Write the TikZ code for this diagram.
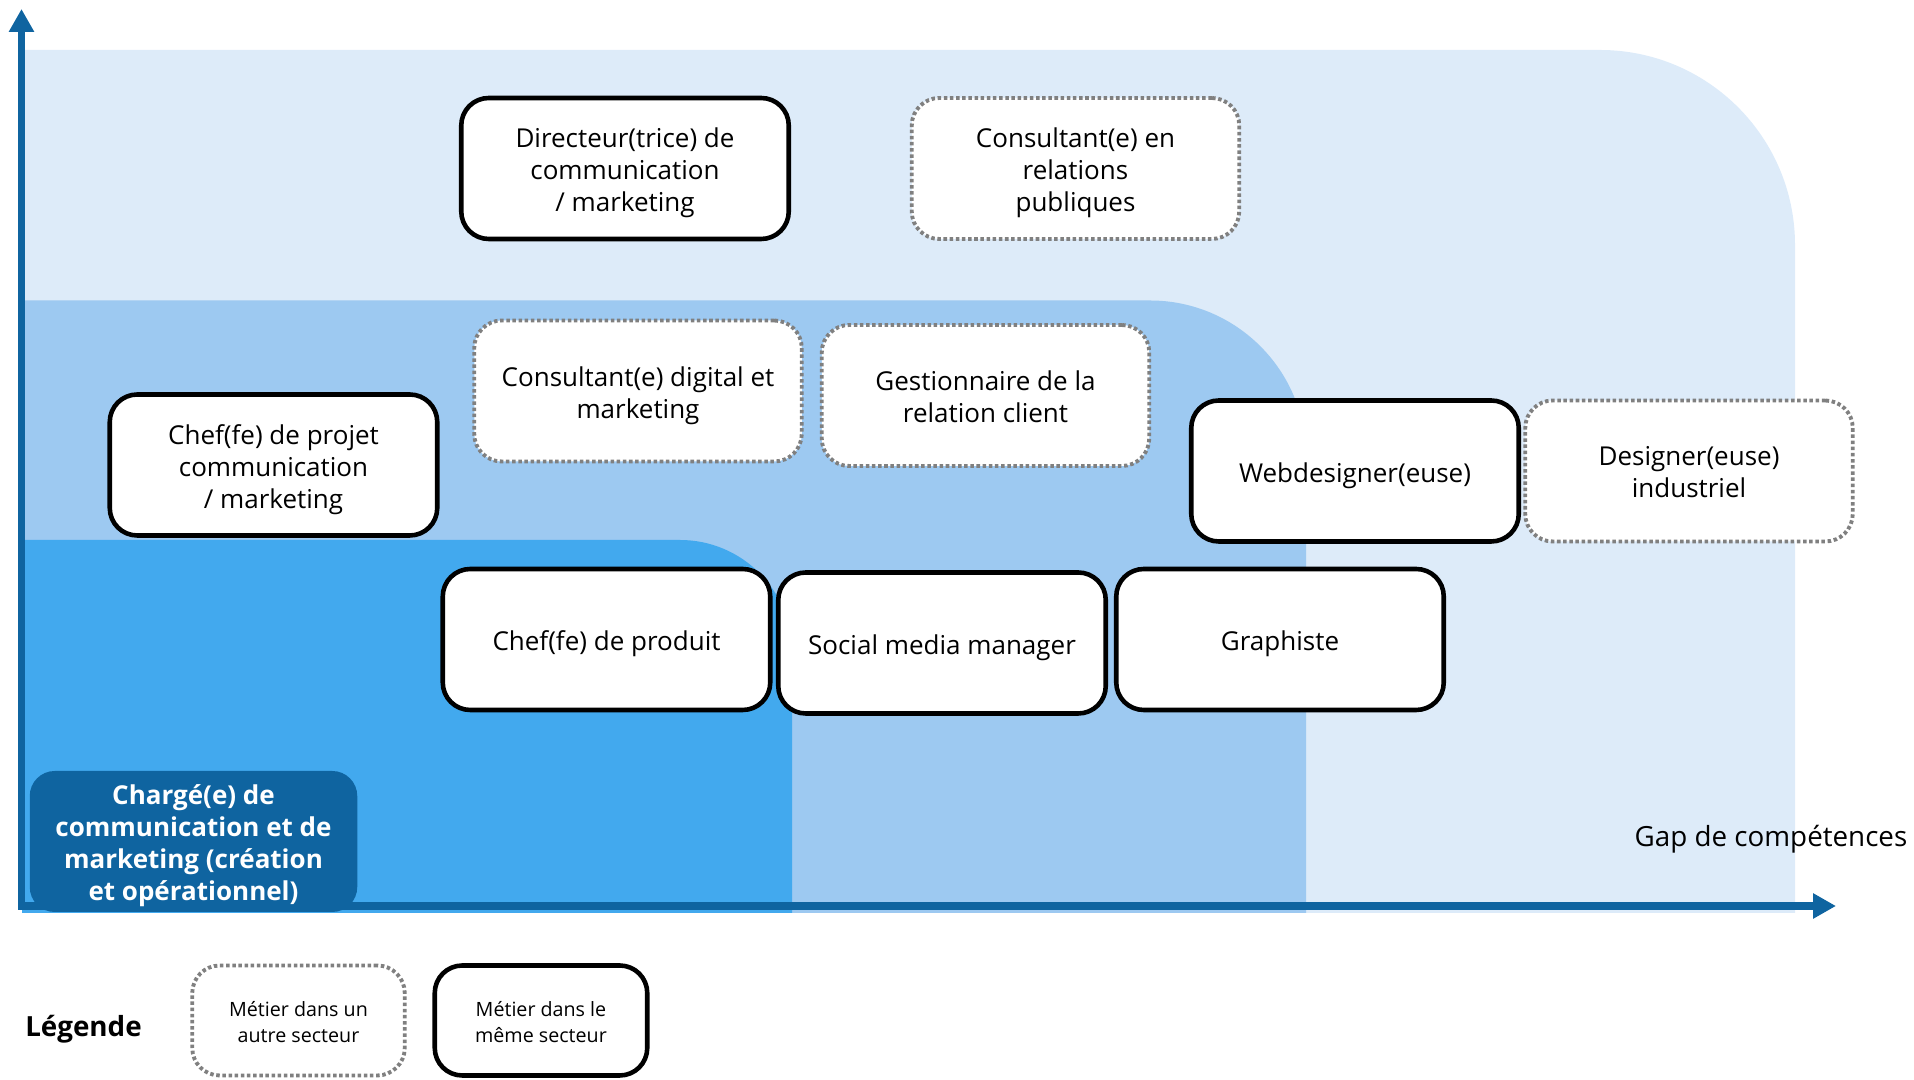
\documentclass[tikz,border=0pt]{standalone}
\usepackage{fontspec}
\setmainfont{Open Sans}
\usetikzlibrary{arrows.meta}
\definecolor{zoneLight}{HTML}{DDEBF9}
\definecolor{zoneMid}{HTML}{9DC9F1}
\definecolor{zoneDark}{HTML}{42A9EE}
\definecolor{navy}{HTML}{0F64A0}
\definecolor{dotgray}{HTML}{808080}

\begin{document}
\begin{tikzpicture}
	\tikzstyle{Caption} = [align=center, font=\fontsize{14.8}{18.2}\selectfont, execute at begin node={\setbox0=\hbox\bgroup}, execute at end node={\rule[-3.6pt]{0pt}{3.6pt}\egroup\raisebox{-2.6pt}[\height][\depth]{\box0}}]
	\tikzstyle{SmallCaption} = [align=center, font=\fontsize{11.2}{14.7}\selectfont, execute at begin node={\setbox0=\hbox\bgroup}, execute at end node={\rule[-2.7pt]{0pt}{2.7pt}\egroup\raisebox{-2.2pt}[\height][\depth]{\box0}}]
	\tikzstyle{Box} = [rectangle, rounded corners=0.55cm, minimum width=6.55cm, minimum height=2.82cm, draw=black, line width=2.6pt, fill=white]
	\tikzstyle{Job} = [Box, Caption]
	\tikzstyle{OtherJob} = [Job, draw=dotgray, line width=2.2pt, dash pattern=on 2pt off 1.5pt]
	\tikzstyle{CurrentJob} = [Job, draw=none, fill=navy, text=white, rounded corners=0.5cm, font=\fontsize{14.8}{18.2}\selectfont\bfseries]
	\tikzstyle{LegendJob} = [Box, SmallCaption, minimum width=4.25cm, minimum height=2.2cm]
	\tikzstyle{LegendOther} = [LegendJob, draw=dotgray, line width=2.2pt, dash pattern=on 2pt off 1.5pt]
	\tikzstyle{axis} = [line width=4.3pt, navy, -{Triangle[length=0.46cm, width=0.48cm]}]
	
	\useasboundingbox (0,0) rectangle (38.28,21.6);
	
	\fill [zoneLight] (0.44,3.34) -- (0.44,20.6) -- (32,20.6) arc[start angle=90, end angle=0, radius=3.9] -- (35.9,3.34) -- cycle;
	\fill [zoneMid] (0.44,3.34) -- (0.44,15.59) -- (23,15.59) arc[start angle=90, end angle=0, radius=3.12] -- (26.12,3.34) -- cycle;
	\fill [zoneDark] (0.44,3.34) -- (0.44,10.8) -- (13.6,10.8) arc[start angle=90, end angle=0, radius=2.24] -- (15.84,3.34) -- cycle;
	
	\coordinate (yfoot) at (0.43,3.41);
	\coordinate (ytip) at (0.43,21.42);
	\coordinate (xfoot) at (0.36,3.48);
	\coordinate (xtip) at (36.72,3.48);
	\draw [axis] (yfoot) -- (ytip);
	\draw [axis] (xfoot) -- (xtip);
	
	\node (dir) [Job] at (12.5,18.23) {Directeur(trice) de\\communication\\/ marketing};
	\node (relpub) [OtherJob] at (21.51,18.23) {Consultant(e) en\\relations\\publiques};
	\node (digital) [OtherJob] at (12.76,13.78) {Consultant(e) digital et\\marketing};
	\node (client) [OtherJob] at (19.71,13.69) {Gestionnaire de la\\relation client};
	\node (projet) [Job] at (5.47,12.3) {Chef(fe) de projet\\communication\\/ marketing};
	\node (web) [Job] at (27.1,12.18) {Webdesigner(euse)};
	\node (indus) [OtherJob] at (33.78,12.18) {Designer(euse)\\industriel};
	\node (produit) [Job] at (12.13,8.81) {Chef(fe) de produit};
	\node (social) [Job] at (18.84,8.74) {Social media manager};
	\node (graph) [Job] at (25.6,8.81) {Graphiste};
	\node (charge) [CurrentJob] at (3.87,4.77) {Chargé(e) de\\communication et de\\marketing (création\\et opérationnel)};
	\node (gap) [Caption, font=\fontsize{15.8}{18.2}\selectfont] at (35.42,4.9) {Gap de compétences};
	
	\node (legende) [Caption, font=\fontsize{15.8}{18.2}\selectfont\bfseries] at (1.67,1.11) {Légende};
	\node (legautre) [LegendOther] at (5.97,1.19) {Métier dans un\\autre secteur};
	\node (legmeme) [LegendJob] at (10.82,1.19) {Métier dans le\\même secteur};
\end{tikzpicture}
\end{document}
